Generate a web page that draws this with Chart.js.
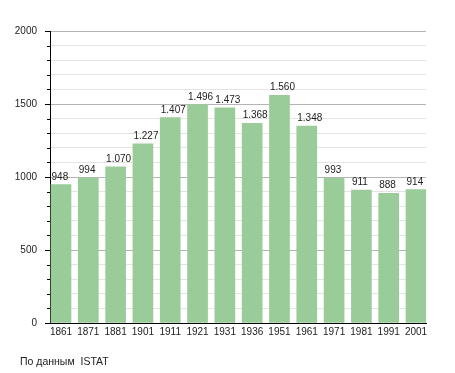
<!DOCTYPE html>
<html>
<head>
<meta charset="utf-8">
<script src="https://cdn.jsdelivr.net/npm/chart.js@4/dist/chart.umd.min.js"></script>
<style>
  html, body { margin: 0; padding: 0; background: #fff; }
  #wrap { position: relative; width: 455px; height: 373px; }
  #c { position: absolute; left: 0; top: 0; }
  #src { position: absolute; left: 20px; top: 355px; font: 10.5px "Liberation Sans", Arial, sans-serif; color: #222; white-space: pre; }
</style>
</head>
<body>
<div id="wrap">
  <canvas id="c" width="455" height="373"></canvas>
  <div id="src">По данным  ISTAT</div>
</div>
<script>
const categories = ['1861', '1871', '1881', '1901', '1911', '1921', '1931', '1936', '1951', '1961', '1971', '1981', '1991', '2001'];
const population = [948, 994, 1070, 1227, 1407, 1496, 1473, 1368, 1560, 1348, 993, 911, 888, 914];
const yTickValues = [0, 500, 1000, 1500, 2000];

function fmt(v) {
  if (v >= 1000) return Math.floor(v / 1000) + '.' + String(v % 1000).padStart(3, '0');
  return String(v);
}

const FONT = '"Liberation Sans", Arial, sans-serif';

const overlay = {
  id: 'overlay',
  afterDatasetsDraw(chart) {
    const ctx = chart.ctx;
    const meta = chart.getDatasetMeta(0);
    ctx.save();
    ctx.font = '10px ' + FONT;
    ctx.fillStyle = '#222';
    ctx.textAlign = 'left';
    ctx.textBaseline = 'alphabetic';
    meta.data.forEach((bar, i) => {
      ctx.fillText(fmt(population[i]), bar.x - bar.width / 2 + 0.5, bar.y - 5);
    });
    const y = chart.scales.y;
    ctx.strokeStyle = '#000';
    ctx.lineWidth = 1;
    for (let v = 0; v <= 2000; v += 100) {
      if (v % 500 === 0) continue;
      const py = Math.round(y.getPixelForValue(v)) + 0.5;
      ctx.beginPath();
      ctx.moveTo(chart.chartArea.left - 3, py);
      ctx.lineTo(chart.chartArea.left, py);
      ctx.stroke();
    }
    ctx.restore();
  }
};

new Chart(document.getElementById('c'), {
  type: 'bar',
  data: {
    datasets: [{
      data: population.map((v, i) => ({ x: i, y: v })),
      backgroundColor: '#99cc99',
      borderWidth: 0,
      barThickness: 20
    }]
  },
  options: {
    responsive: false,
    animation: false,
    devicePixelRatio: 1,
    layout: { padding: { top: 31, right: 29, bottom: 30, left: 0 } },
    plugins: { legend: { display: false }, tooltip: { enabled: false } },
    scales: {
      x: {
        type: 'linear',
        offset: false,
        min: -0.403,
        max: 13.366,
        afterBuildTicks: s => { s.ticks = categories.map((_, i) => ({ value: i })); },
        afterFit: s => { s.height = 20; },
        ticks: {
          autoSkip: false,
          maxRotation: 0,
          padding: 3,
          color: '#222',
          font: { family: FONT, size: 10 },
          callback: v => categories[v] ?? ''
        },
        grid: { display: true, offset: false, drawOnChartArea: false, drawTicks: false },
        border: { display: true, color: '#000', width: 1 }
      },
      y: {
        min: 0,
        max: 2000,
        afterFit: s => { s.width = 50; },
        ticks: {
          stepSize: 100,
          autoSkip: false,
          padding: 8,
          color: '#222',
          font: { family: FONT, size: 10 },
          callback: v => yTickValues.includes(v) ? String(v) : ''
        },
        grid: {
          color: c => (c.tick && c.tick.value % 500 === 0) ? '#b4b4b4' : '#e4e4e4',
          tickColor: c => (c.tick && c.tick.value % 500 === 0) ? '#000' : 'rgba(0,0,0,0)',
          tickLength: 5,
          lineWidth: 1
        },
        border: { display: true, color: '#000', width: 1 }
      }
    }
  },
  plugins: [overlay]
});
</script>
</body>
</html>
